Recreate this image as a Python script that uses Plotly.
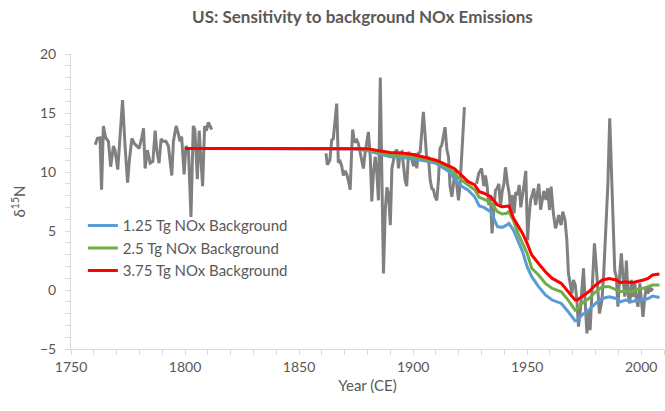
import plotly.graph_objects as go

# ---- observed d15N record (gray) ----
obs_years = [
    1760.6, 1761.6, 1762.7, 1763.4, 1764.2, 1765.2, 1766.4, 1767.4, 1768.6, 1769.3,
    1770.5, 1771.5, 1772.6, 1773.7, 1774.8, 1775.6, 1776.7, 1777.8, 1778.9, 1779.9,
    1781.0, 1781.8, 1782.5, 1783.5, 1784.7, 1785.9, 1786.9, 1787.6, 1788.6, 1789.5,
    1790.5, 1791.6, 1792.7, 1794.2, 1794.9, 1796.1, 1797.1, 1797.8, 1798.5, 1799.6,
    1800.4, 1801.5, 1802.6, 1803.6, 1804.3, 1805.4, 1806.2, 1807.0, 1807.7, 1808.6,
    1809.4, 1810.2, 1811.2, 1811.7,
    1836,
    1861.8, 1862.4, 1863.5, 1864.3, 1865.0, 1865.7, 1866.5, 1867.2, 1868.0, 1868.7,
    1869.4, 1870.2, 1870.9, 1871.6, 1872.4, 1873.1, 1873.5, 1874.3, 1875.3, 1876.0,
    1876.8, 1877.5, 1878.2, 1879.0, 1879.7, 1880.4, 1881.2, 1881.9, 1882.6, 1883.4,
    1884.1, 1884.8, 1885.6, 1886.3, 1887.0, 1887.8, 1888.5, 1889.2, 1890.0, 1890.7,
    1891.4, 1892.1, 1892.9, 1893.6, 1894.3, 1895.1, 1895.8, 1896.5, 1897.2, 1898.0,
    1898.7, 1899.4, 1900.2, 1900.9, 1901.6, 1902.3, 1903.1, 1903.8, 1904.5, 1905.3,
    1906.0, 1906.7, 1907.5, 1908.2, 1908.9, 1909.6, 1910.4, 1911.1, 1911.8, 1912.6,
    1913.3, 1914.0, 1914.8, 1915.5, 1916.2, 1917.0, 1917.7, 1918.4, 1919.1, 1919.9,
    1920.6, 1921.3, 1922.1, 1922.5,
    1925,
    1927.8, 1928.8, 1930.0, 1931.0, 1931.7, 1932.4, 1933.2, 1933.9, 1934.6, 1935.4,
    1936.1, 1936.8, 1937.6, 1938.3, 1939.0, 1939.8, 1940.5, 1941.4, 1942.1, 1942.8,
    1943.4, 1944.3, 1945.0, 1945.8, 1946.5, 1947.2, 1948.0, 1948.7, 1949.4, 1950.2,
    1950.7, 1951.5, 1952.2, 1952.9, 1953.7, 1954.4, 1955.1, 1955.9, 1956.6, 1957.3,
    1958.3, 1959.0, 1959.8, 1960.5, 1961.5, 1962.4, 1963.1, 1963.8, 1964.9, 1965.6,
    1966.6, 1967.4, 1968.1, 1968.8, 1969.6, 1970.3, 1971.1, 1971.8, 1972.5, 1973.2,
    1974.0, 1974.7, 1975.4, 1976.2, 1976.9, 1977.6, 1978.4, 1979.5, 1980.3, 1981.1,
    1981.7, 1982.8, 1983.5, 1984.4, 1985.4, 1986.2, 1986.9, 1987.6, 1988.4, 1989.1,
    1989.8, 1990.6, 1991.3, 1992.0, 1992.8, 1993.5, 1994.2, 1995.0, 1995.7, 1996.4,
    1997.2, 1997.9, 1998.6, 1999.4, 2000.1, 2000.8, 2001.6, 2002.3, 2003.0, 2003.8,
    2004.5, 2005.2,
]
obs_values = [
    12.3, 12.85, 12.9, 8.5, 13.9, 12.9, 12.6, 10.45, 12.2, 11.85,
    10.2, 13.5, 16.1, 12.2, 9.1, 11.0, 12.85, 12.4, 12.2, 12.0,
    12.9, 13.7, 10.3, 11.85, 10.75, 10.9, 13.5, 11.85, 10.75, 12.8,
    12.6, 12.6, 12.2, 9.7, 12.6, 13.9, 13.2, 12.6, 13.0, 9.8,
    12.2, 11.85, 6.2, 13.9, 13.6, 9.4, 13.5, 11.4, 8.8, 13.9,
    13.5, 14.2, 13.7, 13.6,
    None,
    11.58, 10.6, 11.0, 12.7, 12.8, 13.98, 15.8, 10.8, 10.9, 10.5,
    9.7, 10.1, 9.8, 9.3, 8.5, 12.0, 13.6, 12.5, 12.7, 12.4,
    11.7, 10.9, 10.3, 11.7, 12.5, 13.4, 11.3, 7.5, 9.9, 11.3,
    9.9, 7.6, 18.0, 8.7, 1.4, 6.8, 8.7, 8.2, 5.5, 10.3,
    11.0, 11.7, 11.9, 10.3, 11.6, 11.7, 10.5, 9.3, 8.8, 11.7,
    11.4, 11.1, 10.5, 11.6, 10.3, 11.6, 11.7, 13.2, 15.1, 13.0,
    11.0, 11.3, 9.3, 8.6, 8.5, 7.9, 7.6, 9.3, 12.0, 12.3,
    13.0, 13.8, 11.9, 11.3, 8.8, 7.9, 9.0, 10.3, 9.0, 7.6,
    9.0, 11.6, 14.4, 15.5,
    None,
    9.0, 9.9, 10.3, 8.8, 9.7, 8.9, 7.2, 8.05, 4.8, 6.6,
    8.45, 8.6, 9.0, 7.0, 8.3, 9.0, 10.4, 9.0, 8.2, 6.6,
    8.05, 6.5, 8.3, 8.05, 8.9, 7.0, 7.9, 9.0, 10.1, 4.2,
    5.9, 7.6, 8.05, 8.6, 7.2, 8.05, 9.0, 6.8, 7.7, 8.4,
    7.63, 8.62, 6.78, 8.76, 6.5, 5.23, 5.65, 6.36, 5.5, 6.64,
    5.93, 4.24, 1.4, 0.7, -0.3, 0.85, 0.42, -0.85, -3.1, -2.0,
    0.28, 1.84, -0.85, -3.67, -1.7, -3.4, -0.3, 3.95, 1.98, -0.57,
    -2.0, -0.85, 1.13, 4.8, 9.04, 14.55, 10.45, 7.6, 1.67, 1.13,
    -1.42, 1.4, 3.1, 1.13, -0.57, 2.5, -0.3, -1.14, 0.85, -0.57,
    0.56, -0.85, -1.42, 0.56, -1.28, -2.27, -0.57, 0.28, -0.3, 0.14,
    0.0, 0.14,
]

# ---- model scenarios ----
model_years = [
    1800, 1860, 1875, 1880, 1885, 1890, 1895, 1900, 1905, 1910,
    1913, 1916, 1918, 1920, 1922, 1924, 1927, 1929, 1931, 1934,
    1937, 1939, 1941, 1942, 1944, 1946, 1948, 1950, 1952, 1955,
    1958, 1961, 1965, 1968, 1971, 1972, 1974, 1977, 1980, 1983,
    1986, 1989, 1991, 1993, 1996, 1998, 2001, 2003, 2005, 2008,
]
bg_125 = [
    12.0, 12.0, 11.95, 11.8, 11.55, 11.3, 11.24, 11.1, 10.95, 10.74,
    10.4, 10.0, 9.47, 9.0, 8.7, 8.47, 7.9, 7.12, 7.0, 6.64,
    5.37, 5.31, 5.5, 5.65, 5.08, 4.24, 3.25, 1.98, 1.13, 0.28,
    -0.42, -0.85, -1.14, -1.84, -2.6, -2.55, -2.12, -1.7, -1.14, -0.72,
    -0.58, -0.72, -1.0, -0.85, -1.0, -0.85, -0.85, -0.72, -0.52, -0.63,
]
bg_25 = [
    12.0, 12.0, 12.0, 11.9, 11.65, 11.44, 11.35, 11.3, 11.1, 10.9,
    10.6, 10.3, 9.9, 9.5, 9.2, 8.9, 8.5, 7.85, 7.7, 7.4,
    6.64, 6.44, 6.5, 6.64, 5.9, 4.8, 3.95, 3.1, 1.84, 1.27,
    0.56, 0.14, -0.15, -0.85, -1.7, -1.56, -1.14, -0.72, -0.15, 0.28,
    0.28, 0.0, -0.15, -0.07, -0.15, 0.05, 0.14, 0.28, 0.42, 0.42,
]
bg_375 = [
    12.0, 12.0, 12.0, 11.98, 11.8, 11.65, 11.6, 11.48, 11.25, 11.0,
    10.75, 10.5, 10.3, 9.95, 9.6, 9.2, 8.9, 8.33, 8.2, 7.9,
    7.2, 7.06, 7.1, 7.12, 6.1, 5.5, 4.8, 3.95, 2.96, 2.25,
    1.55, 0.98, 0.56, -0.15, -0.85, -0.85, -0.58, -0.15, 0.42, 0.85,
    0.98, 0.85, 0.62, 0.7, 0.62, 0.7, 0.85, 0.98, 1.27, 1.35,
]

TXT = "#595959"
FONT = "Lato"

fig = go.Figure()
fig.add_trace(go.Scatter(x=obs_years, y=obs_values, mode="lines",
                         line=dict(color="#808080", width=3),
                         connectgaps=False, showlegend=False))
fig.add_trace(go.Scatter(x=model_years, y=bg_125, mode="lines",
                         name="1.25 Tg NOx Background",
                         line=dict(color="#5b9bd5", width=3)))
fig.add_trace(go.Scatter(x=model_years, y=bg_25, mode="lines",
                         name="2.5 Tg NOx Background",
                         line=dict(color="#70ad47", width=3)))
fig.add_trace(go.Scatter(x=model_years, y=bg_375, mode="lines",
                         name="3.75 Tg NOx Background",
                         line=dict(color="#ff0000", width=3)))

axis_common = dict(showgrid=False, zeroline=False, showline=True,
                   linecolor="#d9d9d9", linewidth=1,
                   ticks="outside", ticklen=5, tickcolor="#d9d9d9",
                   tickfont=dict(family=FONT, size=14, color=TXT))

fig.update_layout(
    width=665, height=411,
    margin=dict(l=71, r=1, t=54, b=62),
    paper_bgcolor="white", plot_bgcolor="white",
    font=dict(family=FONT, color=TXT),
    title=dict(text="<b>US: Sensitivity to background NOx Emissions</b>",
               x=0.545, xref="container", xanchor="center",
               y=0.958, yref="container", yanchor="middle",
               font=dict(family=FONT, size=17, color=TXT)),
    xaxis=dict(range=[1750, 2010], dtick=50, tick0=1750,
               minor=dict(dtick=10, ticks="outside", ticklen=5, tickcolor="#d9d9d9"),
               title=dict(text="Year (CE)", font=dict(family=FONT, size=15, color=TXT),
                          standoff=6),
               **axis_common),
    yaxis=dict(range=[-5, 20], dtick=5, tick0=-5,
               minor=dict(dtick=1, ticks="outside", ticklen=5, tickcolor="#d9d9d9"),
               title=dict(text="δ<sup>15</sup>N", font=dict(family=FONT, size=15, color=TXT),
                          standoff=10),
               ticklabelstandoff=6,
               **axis_common),
    legend=dict(x=0.02, y=0.474, xanchor="left", yanchor="top",
                bgcolor="rgba(0,0,0,0)", tracegroupgap=0,
                font=dict(family=FONT, size=15, color=TXT)),
)

fig.write_html("out.html")
